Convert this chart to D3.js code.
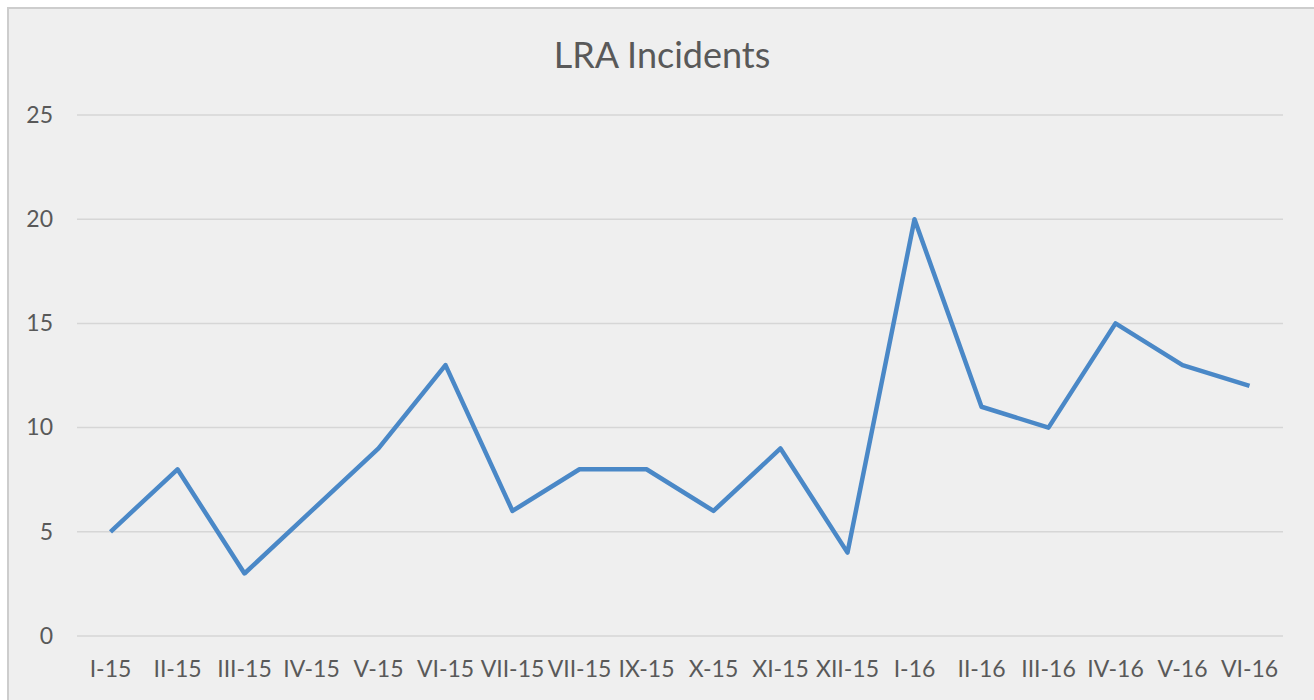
<!DOCTYPE html>
<html>
<head>
<meta charset="utf-8">
<script src="https://cdn.jsdelivr.net/npm/d3@7"></script>
<style>
  body { margin: 0; background: #fff; }
  svg { display: block; font-family: Lato, "Open Sans", sans-serif; }
</style>
</head>
<body>
<div id="chart"></div>
<script>
// datos
var meses = ["I-15", "II-15", "III-15", "IV-15", "V-15", "VI-15", "VII-15", "VII-15", "IX-15",
             "X-15", "XI-15", "XII-15", "I-16", "II-16", "III-16", "IV-16", "V-16", "VI-16"];
var incidentes = [5, 8, 3, 6, 9, 13, 6, 8, 8, 6, 9, 4, 20, 11, 10, 15, 13, 12];
var ticksY = [0, 5, 10, 15, 20, 25];
var titulo = "LRA Incidents";

var w = 1314;
var h = 700;
var margin = { top: 115, right: 31, bottom: 64, left: 77 };
var width = w - margin.left - margin.right;
var height = h - margin.top - margin.bottom;

var svg = d3.select("#chart")
    .append("svg")
    .attr("width", w)
    .attr("height", h);

// fondo con borde
svg.append("rect")
    .attr("x", 8).attr("y", 8)
    .attr("width", w + 10).attr("height", h + 10)
    .attr("fill", "#efefef")
    .attr("stroke", "#cdcdcd")
    .attr("stroke-width", 2);

svg.append("text")
    .attr("x", 662).attr("y", 68)
    .attr("text-anchor", "middle")
    .attr("font-size", 36)
    .attr("fill", "#595959")
    .text(titulo);

var g = svg.append("g")
    .attr("transform", "translate(" + margin.left + "," + margin.top + ")");

// indices para que las etiquetas repetidas no choquen
var x = d3.scaleBand().domain(d3.range(meses.length)).range([0, width]);
var y = d3.scaleLinear().domain([0, 25]).range([height, 0]);

// rejilla
g.selectAll(".grid")
    .data(ticksY)
    .enter()
    .append("line")
    .attr("x1", 0).attr("x2", width)
    .attr("y1", function (d) { return y(d); })
    .attr("y2", function (d) { return y(d); })
    .attr("stroke", "#d6d6d6")
    .attr("stroke-width", 1.5);

// eje y
var ejeY = g.append("g")
    .call(d3.axisLeft(y).tickValues(ticksY).tickSize(0).tickPadding(24));
ejeY.select(".domain").remove();
ejeY.selectAll("text")
    .attr("font-size", 23)
    .attr("font-family", "Lato, 'Open Sans', sans-serif")
    .attr("fill", "#595959");

// eje x
var ejeX = g.append("g")
    .attr("transform", "translate(0," + height + ")")
    .call(d3.axisBottom(x).tickSize(0).tickPadding(25)
        .tickFormat(function (i) { return meses[i]; }));
ejeX.select(".domain").remove();
ejeX.selectAll("text")
    .attr("font-size", 23)
    .attr("font-family", "Lato, 'Open Sans', sans-serif")
    .attr("fill", "#595959");

// linea
var linea = d3.line()
    .x(function (d, i) { return x(i) + x.bandwidth() / 2; })
    .y(function (d) { return y(d); });

g.append("path")
    .datum(incidentes)
    .attr("fill", "none")
    .attr("stroke", "#4a88c7")
    .attr("stroke-width", 4.5)
    .attr("stroke-linejoin", "round")
    .attr("d", linea);
</script>
</body>
</html>
